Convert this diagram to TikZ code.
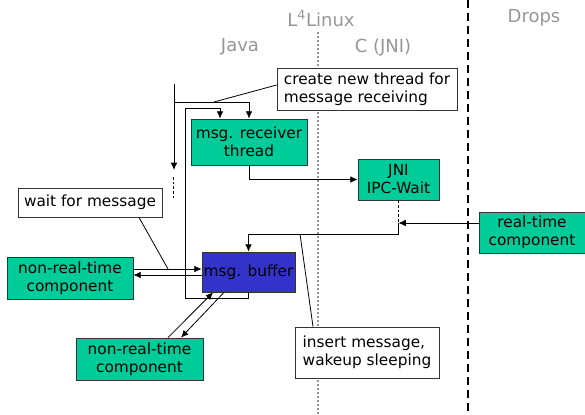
\documentclass[tikz,border=0pt]{standalone}
\usepackage{fontspec}
\setmainfont{DejaVu Sans}
\usepackage{tikz}
\usetikzlibrary{arrows,arrows.meta,calc,positioning}
\definecolor{comp_green}{RGB}{0, 204, 153}
\definecolor{buf_blue}{RGB}{51, 51, 204}
\definecolor{lane_gray}{RGB}{150, 150, 150}
\tikzset{
  box/.style = {draw=black!80, align=center, inner sep=1pt, text=black,
  font=\fontsize{11.5}{13.5}\selectfont},
  comp/.style = {box, fill=comp_green},
  note/.style = {box, fill=white, align=left},
  lane/.style = {text=lane_gray, font=\fontsize{13.5}{15}\selectfont}
}

\begin{document}
\begin{tikzpicture}[x=0.75pt, y=-0.75pt, >={Latex[length=5.5pt,width=5pt]}, line width=0.6pt]
	\useasboundingbox (0,0) rectangle (585,414);
	\draw[lane_gray, dash pattern=on 1.5pt off 1.5pt, line width=0.8pt] (318,32) -- (318,414);
	\draw[line width=1.5pt, dash pattern=on 6pt off 3.75pt] (468,0) -- (468,414);

	\node [lane] (l4linux) at (321,19) {L\textsuperscript{4}Linux};
	\node [lane] (java) at (240,47) {Java};
	\node [lane] (cjni) at (383,47) {C (JNI)};
	\node [lane] (drops) at (534,18) {Drops};

	\node [note, minimum width=135pt, minimum height=31.5pt] (create) at (367,89) {create new thread for\\message receiving};
	\node [comp, minimum width=87pt, minimum height=34.5pt] (recv) at (249,142) {msg. receiver\\thread};
	\node [comp, minimum width=60.75pt, minimum height=30.75pt] (jni) at (398.5,179.5) {JNI\\IPC-Wait};
	\node [box, fill=buf_blue, minimum width=69.75pt, minimum height=30pt] (buf) at (248.5,272) {msg. buffer};
	\node [note, minimum width=108pt, minimum height=21.75pt] (wait) at (90,202.5) {wait for message};
	\node [comp, minimum width=94.5pt, minimum height=31.5pt] (nrt_left) at (70,278) {non-real-time\\component};
	\node [comp, minimum width=95.25pt, minimum height=31.5pt] (nrt_bottom) at (139.5,359) {non-real-time\\component};
	\node [comp, minimum width=79.5pt, minimum height=30.75pt] (rt) at (532,232.5) {real-time\\component};
	\node [note, minimum width=108pt, minimum height=38.25pt] (insert) at (367,352.5) {insert message,\\wakeup sleeping};

	\coordinate (spawn) at (174,84);
	\coordinate (fork) at (174,102);
	\coordinate (spawn_end) at (174,170);
	\coordinate (sleep) at (173,177);
	\coordinate (sleep_end) at (173,199);
	\coordinate (fork_hint) at (214,102);
	\coordinate (loop_corner) at (185,108);
	\coordinate (wake) at (398.5,223);
	\coordinate (insert_hint) at (300,234);
	\coordinate (wait_hint) at (168,269);

	\draw[->] (spawn) -- (spawn_end);
	\draw[dash pattern=on 2pt off 1.5pt] (sleep) -- (sleep_end);
	\draw[->] (fork) -| (recv.north);
	\draw ([yshift=3pt]create.west) -- (fork_hint);
	\draw[->] (buf.south) -- ++(0,6) -| (loop_corner) -| ([xshift=-21.75pt]recv.north);
	\draw[->] (recv.south) |- (jni.west);
	\draw[dash pattern=on 2pt off 1.5pt] (jni.south) -- (wake);
	\draw[->] (wake) -- ++(0,11) -| (buf.north);
	\draw[->] (rt.west |- wake) -- (wake);
	\draw ([xshift=-40.5pt]insert.north) -- (insert_hint);
	\draw[->] ([yshift=6.75pt]nrt_left.east) -- ([yshift=6.75pt]nrt_left.east -| buf.west);
	\draw[<-] ([yshift=2.25pt]nrt_left.east) -- ([yshift=2.25pt]nrt_left.east -| buf.west);
	\draw ([xshift=36.75pt]wait.south) -- (wait_hint);
	\draw[->] ([xshift=21.4pt]nrt_bottom.north) -- ([xshift=-26.6pt]buf.south);
	\draw[->] ([xshift=-18.4pt]buf.south) -- ([xshift=31.1pt]nrt_bottom.north);
\end{tikzpicture}
\end{document}
